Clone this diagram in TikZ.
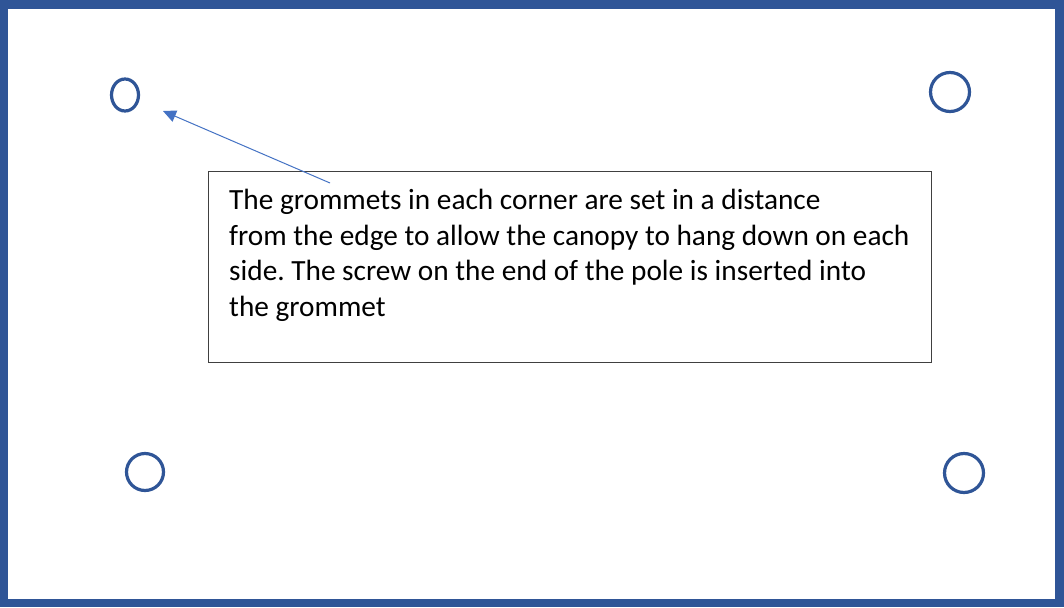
\documentclass[tikz,border=0pt]{standalone}
\usepackage{fontspec}
\setmainfont{Carlito}
\usetikzlibrary{arrows.meta}
\definecolor{frameblue}{HTML}{2F5597}
\definecolor{arrowblue}{HTML}{4472C4}
\definecolor{boxgray}{HTML}{404040}
\tikzset{
  grommet/.style={draw=frameblue, line width=3.2pt},
  notebox/.style={draw=boxgray, line width=1.3pt, fill=white},
  pointer/.style={draw=arrowblue, line width=1pt, -{Triangle[length=13pt,width=12pt]}},
  notetext/.style={font=\fontsize{29.3pt}{35.5pt}\selectfont\frenchspacing, align=left, inner sep=0pt, text=black}
}
\begin{document}
\begin{tikzpicture}[x=1pt,y=-1pt]
\useasboundingbox (0,0) rectangle (1064,607);
\fill[white] (0,0) rectangle (1064,607);
\draw[frameblue, line width=8.5pt] (4,4.5) rectangle (1059.5,603);
% grommets
\draw[grommet] (125,95) ellipse [x radius=13.5, y radius=16];
\draw[grommet] (950,92) circle [radius=19.5];
\draw[grommet] (145,472) circle [radius=18.5];
\draw[grommet] (964,473) circle [radius=19.5];
% note box
\node[notebox, minimum width=723pt, minimum height=191pt, anchor=north west, inner sep=0pt] (box) at (208,171) {};
\node[notetext, anchor=north west] (txt) at (229,189) {The grommets in each corner are set in a distance\\from the edge to allow the canopy to hang down on each\\side. The screw on the end of the pole is inserted into\\the grommet};
\coordinate (start) at (330,183);
\coordinate (tip) at (163,111);
\draw[pointer] (start) -- (tip);
\end{tikzpicture}
\end{document}
